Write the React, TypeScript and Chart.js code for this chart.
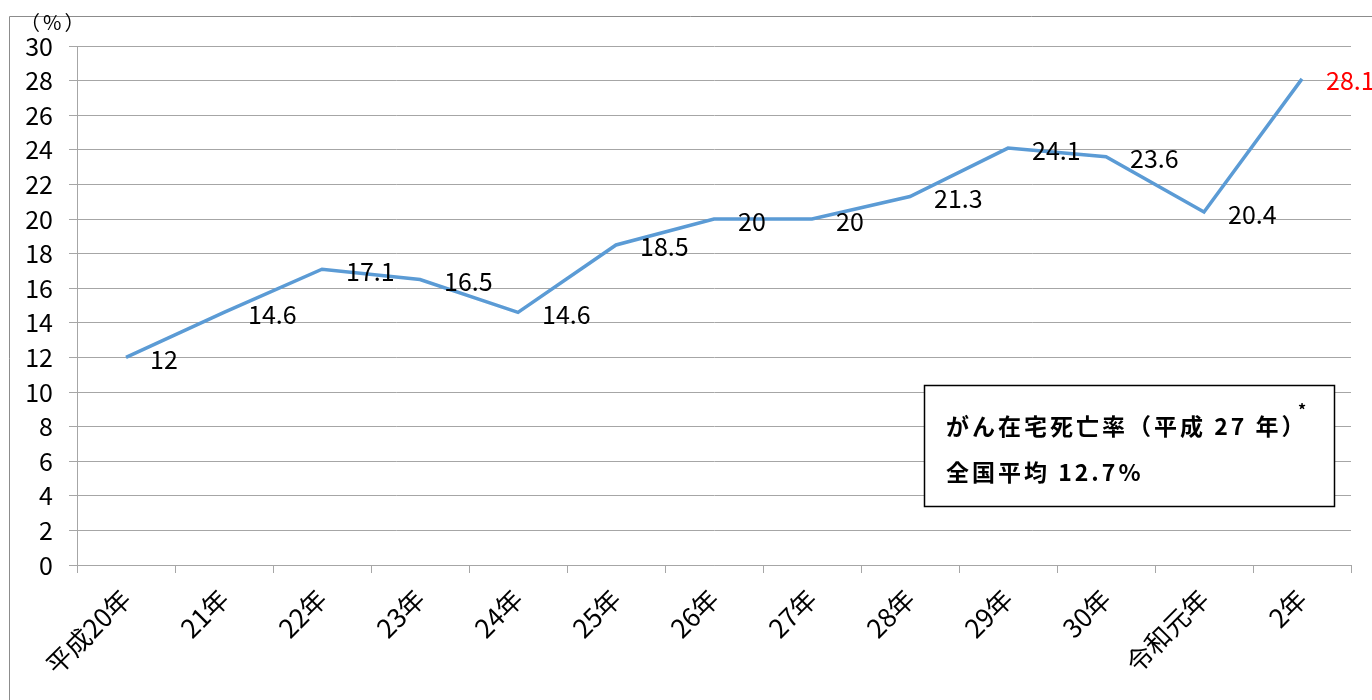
import React, { useEffect, useRef } from "react";
import { Chart, registerables } from "chart.js";

Chart.register(...registerables);

const categories = ["平成20年", "21年", "22年", "23年", "24年", "25年", "26年", "27年", "28年", "29年", "30年", "令和元年", "2年"];
const rates = [12, 14.6, 17.1, 16.5, 14.6, 18.5, 20, 20, 21.3, 24.1, 23.6, 20.4, 28.1];
const yMin = 0;
const yMax = 30;
const yStep = 2;
const unitLabel = "（%）";
const noteTitle = "がん在宅死亡率（平成 27 年）";
const noteMark = "*";
const noteValue = "全国平均 12.7%";

const FONT = '"Noto Sans CJK JP", "Noto Sans", sans-serif';
const GRID = "#a6a6a6";

const decorPlugin = {
  id: "decor",
  beforeDraw(chart: any) {
    const ctx = chart.ctx;
    ctx.save();
    ctx.fillStyle = "#ffffff";
    ctx.fillRect(0, 0, chart.width, chart.height);
    ctx.strokeStyle = "#8c8c8c";
    ctx.lineWidth = 1;
    ctx.beginPath();
    ctx.moveTo(9.5, chart.height);
    ctx.lineTo(9.5, 16.5);
    ctx.lineTo(chart.width, 16.5);
    ctx.stroke();
    ctx.restore();
  },
  afterDatasetsDraw(chart: any) {
    const ctx = chart.ctx;
    const meta = chart.getDatasetMeta(0);
    ctx.save();
    ctx.font = `25px ${FONT}`;
    ctx.textAlign = "left";
    ctx.textBaseline = "middle";
    meta.data.forEach((pt: any, i: number) => {
      ctx.fillStyle = i === rates.length - 1 ? "#ff0000" : "#000000";
      ctx.fillText(String(rates[i]), pt.x + 24, pt.y + 2);
    });
    ctx.restore();
  },
  afterDraw(chart: any) {
    const ctx = chart.ctx;
    ctx.save();
    // unit label
    ctx.fillStyle = "#000";
    ctx.font = `20px ${FONT}`;
    ctx.textAlign = "left";
    ctx.textBaseline = "middle";
    (ctx as any).letterSpacing = "3px";
    ctx.fillText(unitLabel, 20, 22);
    // note box
    ctx.fillStyle = "#ffffff";
    ctx.fillRect(924, 385, 411, 122);
    ctx.strokeStyle = "#000";
    ctx.lineWidth = 1.5;
    ctx.strokeRect(924.5, 385.5, 410, 121);
    ctx.fillStyle = "#000";
    ctx.textAlign = "left";
    (ctx as any).letterSpacing = "3px";
    ctx.font = `bold 23px ${FONT}`;
    ctx.fillText(noteTitle, 946, 426);
    ctx.fillText(noteValue, 946, 472);
    (ctx as any).letterSpacing = "0px";
    ctx.font = `bold 16px ${FONT}`;
    ctx.fillText(noteMark, 1298, 410);
    ctx.restore();
  },
};

export default function App() {
  const ref = useRef<HTMLCanvasElement | null>(null);

  useEffect(() => {
    if (!ref.current) return;
    const chart = new Chart(ref.current, {
      type: "line",
      data: {
        labels: categories,
        datasets: [
          {
            data: rates,
            borderColor: "#5b9bd5",
            borderWidth: 3.5,
            pointRadius: 0,
            tension: 0,
            fill: false,
          },
        ],
      },
      options: {
        responsive: false,
        animation: false,
        layout: { padding: { left: 0, top: 46, right: 21, bottom: 0 } },
        plugins: { legend: { display: false }, tooltip: { enabled: false } },
        scales: {
          x: {
            offset: true,
            grid: { offset: true, drawOnChartArea: false, drawTicks: true, tickLength: 8, color: GRID },
            border: { color: GRID },
            ticks: {
              autoSkip: false,
              minRotation: 45,
              maxRotation: 45,
              padding: 10,
              color: "#000",
              font: { family: FONT, size: 26 },
            },
            afterFit(scale: any) {
              scale.height = 135;
            },
          },
          y: {
            min: yMin,
            max: yMax,
            grid: { color: GRID, tickLength: 8 },
            border: { color: GRID },
            ticks: {
              stepSize: yStep,
              padding: 16,
              color: "#000",
              font: { family: FONT, size: 25 },
            },
            afterFit(scale: any) {
              scale.width = 77;
            },
          },
        },
      },
      plugins: [decorPlugin],
    });
    return () => chart.destroy();
  }, []);

  return (
    <div style={{ position: "absolute", left: 0, top: 0, width: 1372, height: 700, overflow: "hidden" }}>
      <canvas ref={ref} width={1372} height={700} style={{ display: "block" }} />
    </div>
  );
}
